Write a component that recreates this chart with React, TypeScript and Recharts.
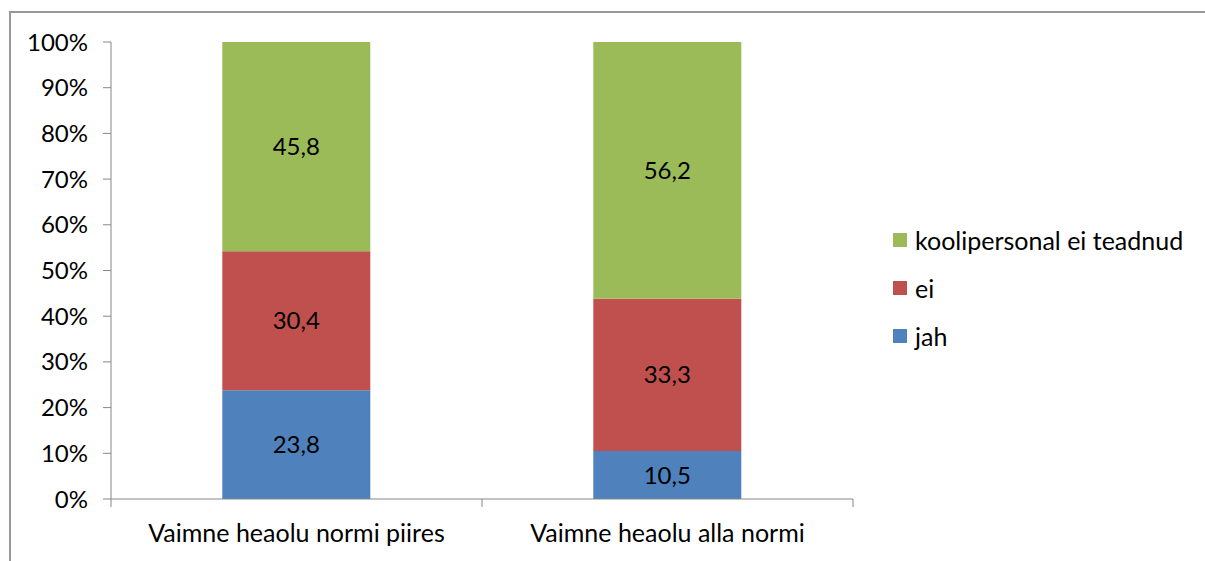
import React from 'react';
import { BarChart, Bar, XAxis, YAxis, Legend, LabelList, Text } from 'recharts';

const categories = ['Vaimne heaolu normi piires', 'Vaimne heaolu alla normi'];
const jah = [23.8, 10.5];
const ei = [30.4, 33.3];
const teadmata = [45.8, 56.2];
const yTicks = [0, 10, 20, 30, 40, 50, 60, 70, 80, 90, 100];

// stacking order, bottom to top
const seriesNames = ['jah', 'ei', 'koolipersonal ei teadnud'];
const seriesColors = ['#4F81BD', '#C0504D', '#9BBB59'];
const seriesValues = [jah, ei, teadmata];

const data = categories.map((name, i) => {
  const row: any = { name };
  seriesNames.forEach((s, k) => (row[s] = seriesValues[k][i]));
  return row;
});

const FONT = 'Lato, "Open Sans", sans-serif';
const AXIS = '#868686';
const TICK_SIZE = 8;
const TICK_MARGIN = 17;
const fmt = (v: any) => String(v).replace('.', ',');

const renderLegend = (props: any) => {
  const items = [...(props.payload || [])].sort(
    (a: any, b: any) => seriesNames.indexOf(b.value) - seriesNames.indexOf(a.value)
  );
  return (
    <div style={{ paddingLeft: 40, fontFamily: FONT, fontSize: 25, color: '#000', whiteSpace: 'nowrap' }}>
      {items.map((it: any) => (
        <div key={it.value} style={{ display: 'flex', alignItems: 'center', height: 48 }}>
          <span style={{ width: 14, height: 14, background: it.color, marginRight: 8, display: 'inline-block', flex: 'none' }} />
          {it.value}
        </div>
      ))}
    </div>
  );
};

// category label plus tick marks on the category boundaries
const CategoryTick = (props: any) => {
  const { x, y, payload, index } = props;
  const half = payload.offset || 0;
  const axisY = y - TICK_SIZE - TICK_MARGIN;
  const last = index === categories.length - 1;
  return (
    <g>
      <line x1={x - half} x2={x - half} y1={axisY} y2={axisY + TICK_SIZE} stroke={AXIS} />
      {last && <line x1={x + half} x2={x + half} y1={axisY} y2={axisY + TICK_SIZE} stroke={AXIS} />}
      <Text x={x} y={y} textAnchor="middle" verticalAnchor="start" fill="#000" fontSize={25} fontFamily={FONT}>
        {payload.value}
      </Text>
    </g>
  );
};

const App: React.FC = () => (
  <div style={{ position: 'absolute', left: 0, top: 0, width: 1205, height: 561, overflow: 'hidden', background: '#fff' }}>
    <div style={{ position: 'absolute', left: 9, top: 11, width: 1400, height: 800, border: '2px solid #999' }} />
    <BarChart
      width={1205}
      height={561}
      data={data}
      margin={{ top: 42, right: 7, bottom: 0, left: 0 }}
      barCategoryGap="30%"
      style={{ fontFamily: FONT }}
    >
      <XAxis
        dataKey="name"
        axisLine={{ stroke: AXIS }}
        tickLine={false}
        tickSize={TICK_SIZE}
        tickMargin={TICK_MARGIN}
        height={62}
        interval={0}
        tick={<CategoryTick />}
      />
      <YAxis
        width={111}
        domain={[0, 100]}
        ticks={yTicks}
        tickFormatter={(v: number) => `${v}%`}
        axisLine={{ stroke: AXIS }}
        tickLine={{ stroke: AXIS }}
        tickSize={TICK_SIZE}
        tickMargin={15}
        tick={{ fill: '#000', fontSize: 24, fontFamily: FONT }}
      />
      <Legend
        layout="vertical"
        align="right"
        verticalAlign="middle"
        content={renderLegend}
        wrapperStyle={{ left: 853, top: 216, width: 345 }}
      />
      {seriesNames.map((s, k) => (
        <Bar key={s} dataKey={s} stackId="a" fill={seriesColors[k]} isAnimationActive={false}>
          <LabelList dataKey={s} position="center" formatter={fmt} fill="#000" fontSize={24} fontFamily={FONT} />
        </Bar>
      ))}
    </BarChart>
  </div>
);

export default App;
